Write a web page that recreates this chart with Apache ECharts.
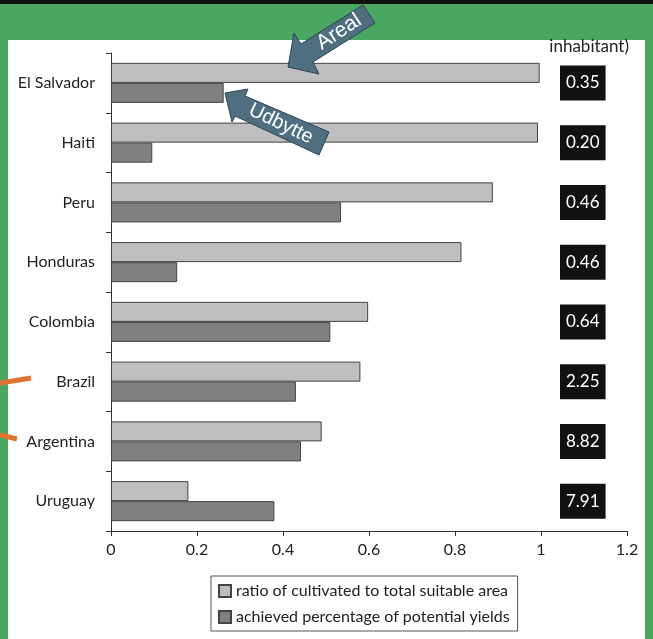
<!DOCTYPE html>
<html>
<head>
<meta charset="utf-8">
<script src="https://cdn.jsdelivr.net/npm/echarts@6/dist/echarts.min.js"></script>
<style>
  html, body { margin: 0; padding: 0; }
  #chart { width: 653px; height: 639px; }
</style>
</head>
<body>
<div id="chart"></div>
<script>
// countries, top to bottom
const countries = ['El Salvador', 'Haiti', 'Peru', 'Honduras', 'Colombia', 'Brazil', 'Argentina', 'Uruguay'];
// ratio of cultivated to total suitable area
const areaRatio = [0.997, 0.993, 0.888, 0.815, 0.598, 0.58, 0.49, 0.18];
// achieved percentage of potential yields
const yieldPct = [0.262, 0.096, 0.535, 0.154, 0.51, 0.43, 0.442, 0.38];
// values in the black boxes (per inhabitant)
const perInhabitant = ['0.35', '0.20', '0.46', '0.46', '0.64', '2.25', '8.82', '7.91'];
const xTicks = [0, 0.2, 0.4, 0.6, 0.8, 1, 1.2];

const font = 'Lato, "Open Sans", sans-serif';
const arrowColor = '#4f6f80';

const chart = echarts.init(document.getElementById('chart'));

chart.setOption({
  backgroundColor: '#4aa762',
  animation: false,
  textStyle: { fontFamily: font },
  grid: { left: 111, right: 26, top: 53, bottom: 108, containLabel: false },
  legend: {
    orient: 'vertical',
    left: 211,
    top: 576,
    padding: [7, 8, 6, 7],
    itemGap: 10,
    itemWidth: 12,
    itemHeight: 12,
    itemTextGap: 6,
    borderColor: '#555',
    borderWidth: 1,
    backgroundColor: '#fff',
    icon: 'rect',
    textStyle: { fontSize: 16, color: '#222', fontFamily: font },
    data: ['ratio of cultivated to total suitable area', 'achieved percentage of potential yields']
  },
  xAxis: {
    type: 'value',
    min: 0,
    max: 1.2,
    interval: 0.2,
    axisLine: { show: true, lineStyle: { color: '#333', width: 1 } },
    axisTick: { show: true, length: 5, lineStyle: { color: '#333' } },
    splitLine: { show: false },
    axisLabel: {
      margin: 11,
      fontSize: 16,
      color: '#222',
      fontFamily: font,
      formatter: v => {
        const t = xTicks.find(k => Math.abs(k - v) < 1e-6);
        return t === undefined ? '' : String(t);
      }
    }
  },
  yAxis: [
    {
      type: 'category',
      inverse: true,
      data: countries,
      axisLine: { show: true, lineStyle: { color: '#333', width: 1 } },
      axisTick: { show: true, length: 5, lineStyle: { color: '#333' } },
      axisLabel: { margin: 16, fontSize: 16, color: '#222', fontFamily: font }
    },
    {
      type: 'category',
      inverse: true,
      position: 'right',
      offset: -67,
      data: perInhabitant,
      axisLine: { show: false },
      axisTick: { show: false },
      axisLabel: {
        margin: 0,
        align: 'left',
        fontSize: 17,
        color: '#fff',
        fontFamily: font,
        backgroundColor: '#111',
        padding: [9, 6, 8, 6],
        lineHeight: 18
      }
    }
  ],
  series: [
    {
      name: 'ratio of cultivated to total suitable area',
      type: 'bar',
      data: areaRatio,
      barGap: '0%',
      barCategoryGap: '33%',
      itemStyle: { color: '#bebec1', borderColor: '#444', borderWidth: 1 }
    },
    {
      name: 'achieved percentage of potential yields',
      type: 'bar',
      data: yieldPct,
      itemStyle: { color: '#808083', borderColor: '#444', borderWidth: 1 }
    }
  ],
  graphic: [
    // white panel behind the plot
    { type: 'rect', z: -100, silent: true, shape: { x: 8, y: 40, width: 637, height: 600 }, style: { fill: '#fff' } },
    { type: 'rect', z: -100, silent: true, shape: { x: 0, y: 0, width: 653, height: 4 }, style: { fill: '#111' } },
    {
      type: 'text', x: 629, y: 47, z: 50,
      style: { text: 'inhabitant)', fill: '#222', font: '17px ' + font, align: 'right', verticalAlign: 'middle' }
    },
    // orange pointers at the left border
    { type: 'line', z: 50, shape: { x1: 0, y1: 383, x2: 31, y2: 378 }, style: { stroke: '#e0742f', lineWidth: 5 } },
    { type: 'line', z: 50, shape: { x1: 0, y1: 435, x2: 17, y2: 439 }, style: { stroke: '#e0742f', lineWidth: 5 } },
    // "Areal" arrow
    {
      type: 'polygon', z: 60,
      shape: { points: [[288, 67], [294, 33], [301, 44], [363, 5], [375, 23], [313, 62], [319, 74]] },
      style: { fill: arrowColor, stroke: '#2f4450', lineWidth: 1 }
    },
    {
      type: 'text', x: 339, y: 32, rotation: 0.58, z: 61,
      style: { text: 'Areal', fill: '#fff', font: '21px "Liberation Sans", sans-serif', align: 'center', verticalAlign: 'middle' }
    },
    // "Udbytte" arrow
    {
      type: 'polygon', z: 60,
      shape: { points: [[225, 93], [248, 89], [245, 96], [329, 132], [319, 155], [235, 116], [232, 122]] },
      style: { fill: arrowColor, stroke: '#2f4450', lineWidth: 1 }
    },
    {
      type: 'text', x: 281, y: 124, rotation: -0.45, z: 61,
      style: { text: 'Udbytte', fill: '#fff', font: '20px "Liberation Sans", sans-serif', align: 'center', verticalAlign: 'middle' }
    }
  ]
});
</script>
</body>
</html>
